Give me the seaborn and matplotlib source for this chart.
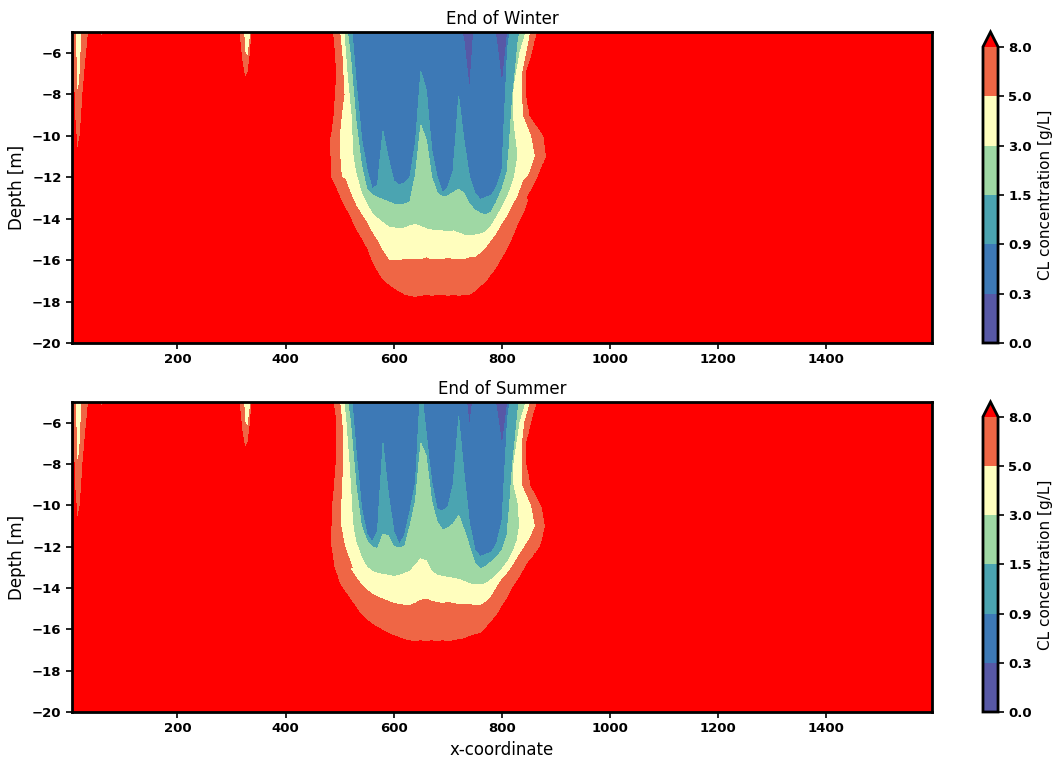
import numpy as np
import matplotlib
matplotlib.use("Agg")
import matplotlib.pyplot as plt
import seaborn as sns

# --- contour levels of the chloride field [g/L] ---
LEVELS = [0.0, 0.3, 0.9, 1.5, 3.0, 5.0, 8.0]
NONE = -4.0  # level not reached inside the model domain for this column

# Each column list gives the depth [m] down to which the concentration stays
# below a level (8, 5, 3, 1.5, 0.9, 0.3).

# narrow fresh strips near x=20 and x=325 (same in both seasons)
strip_x = [5, 10, 15, 20, 25, 30, 35, 40, 50, 60, 70, 310, 320, 325, 330, 335, 340]
strip_b8 = [-4, -9.0, -10.7, -10.0, -8.0, -6.5, -5.0, -4, -4, -5.3, -4, -4, -6.5, -7.2, -7.0, -6.0, -4]
strip_b5 = [-4, -4, -8.5, -7.0, -4, -4, -4, -4, -4, -4, -4, -4, -4, -6.0, -6.3, -5.2, -4]
strip_b3 = [-4, -4, -4, -4, -4, -4, -4, -4, -4, -4, -4, -4, -4, -5.15, -4, -4, -4]

# main fresh-water lens
plume_x = list(range(460, 901, 10))

# End of Winter
w_b8 = [-4, -13, -13, -13, -13,
        -13.5, -14.0, -14.55, -15.0, -15.45,
        -16.15, -16.6, -17.0, -17.2, -17.4,
        -17.55, -17.7, -17.75, -17.8, -17.75,
        -17.7, -17.75, -17.7, -17.7, -17.75,
        -17.7, -17.75, -17.7, -17.7, -17.55,
        -17.3, -17.1, -16.75, -16.4, -15.95,
        -15.5, -14.95, -14.3, -13.8, -13.1,
        -12.4, -12.2, -12.0, -11.8, -4]
w_b5 = [-4, -4, -12.0, -12.0, -12.0,
        -12.1, -12.8, -13.4, -13.8, -14.2,
        -14.7, -15.1, -15.6, -16.0, -16.0,
        -16.05, -15.95, -16.0, -15.95, -16.0,
        -15.9, -16.0, -15.95, -16.0, -15.9,
        -16.0, -15.95, -16.0, -15.9, -15.9,
        -15.7, -15.45, -15.1, -14.75, -14.3,
        -13.9, -13.4, -12.9, -12.2, -11.9,
        -11.4, -11.0, -4, -4, -4]
w_b3 = [-4, -4, -4, -4, -11.0,
        -11.0, -11.2, -11.8, -12.8, -13.3,
        -13.75, -14.0, -14.2, -14.4, -14.45,
        -14.5, -14.45, -14.35, -14.3, -14.4,
        -14.5, -14.55, -14.6, -14.6, -14.65,
        -14.6, -14.7, -14.8, -14.8, -14.8,
        -14.75, -14.65, -14.35, -13.95, -13.45,
        -12.95, -12.3, -11.4, -10.5, -4,
        -4, -4, -4, -4, -4]
w_b15 = [-4, -4, -4, -4, -4,
         -4, -6.2, -9.3, -11.4, -12.6,
         -12.85, -13.0, -13.1, -13.2, -13.3,
         -13.35, -13.3, -13.2, -11.9, -9.5,
         -10.2, -12.0, -12.75, -12.95, -12.9,
         -12.75, -12.6, -12.8, -13.3, -13.6,
         -13.75, -13.85, -13.7, -13.2, -12.6,
         -11.75, -8.1, -5.4, -4, -4,
         -4, -4, -4, -4, -4]
w_b09 = [-4, -4, -4, -4, -4,
         -4, -4, -7.3, -10.1, -11.6,
         -12.6, -12.4, -9.8, -11.1, -12.2,
         -12.4, -12.3, -12.0, -10.4, -6.9,
         -7.8, -10.7, -12.0, -12.8, -12.5,
         -11.7, -8.1, -10.3, -12.0, -12.8,
         -13.1, -13.0, -12.9, -12.5, -11.7,
         -5.8, -4, -4, -4, -4,
         -4, -4, -4, -4, -4]
w_b03 = [-4, -4, -4, -4, -4,
         -4, -4, -4, -4, -4,
         -4, -4, -5.3, -4, -4,
         -4, -4, -4, -4, -4,
         -4, -4, -4, -4, -4,
         -4, -4, -5.5, -7.9, -4,
         -4, -4, -4, -5.4, -7.6,
         -5.2, -4, -4, -4, -4,
         -4, -4, -4, -4, -4]

# End of Summer
s_b8 = [-4, -12.5, -12.8, -13.0, -13.8,
        -14.2, -14.55, -14.95, -15.3, -15.55,
        -15.75, -15.9, -16.05, -16.2, -16.3,
        -16.4, -16.5, -16.55, -16.6, -16.55,
        -16.6, -16.55, -16.6, -16.55, -16.6,
        -16.55, -16.5, -16.45, -16.35, -16.25,
        -16.2, -15.95, -15.65, -15.35, -14.9,
        -14.5, -14.0, -13.6, -13.15, -12.7,
        -12.5, -12.2, -12.0, -11.8, -4]
s_b5 = [-4, -4, -12.3, -12.3, -12.3,
        -12.4, -13.1, -13.5, -13.85, -14.1,
        -14.3, -14.45, -14.55, -14.65, -14.75,
        -14.8, -14.85, -14.85, -14.75, -14.6,
        -14.55, -14.65, -14.7, -14.75, -14.7,
        -14.75, -14.8, -14.8, -14.8, -14.85,
        -14.85, -14.7, -14.45, -14.0, -13.6,
        -13.3, -12.95, -12.5, -12.1, -11.7,
        -11.3, -11.0, -4, -4, -4]
s_b3 = [-4, -4, -4, -4, -11.0,
        -11.0, -11.2, -11.8, -12.5, -13.0,
        -13.2, -13.3, -13.35, -13.4, -13.45,
        -13.4, -13.3, -13.2, -12.9, -12.6,
        -12.7, -13.2, -13.4, -13.45, -13.5,
        -13.55, -13.6, -13.7, -13.8, -13.85,
        -13.85, -13.8, -13.6, -13.4, -13.1,
        -12.75, -12.3, -11.6, -10.8, -4,
        -4, -4, -4, -4, -4]
s_b15 = [-4, -4, -4, -4, -4,
         -4, -6.0, -9.0, -11.0, -11.7,
         -12.0, -12.1, -11.4, -11.5, -12.0,
         -12.05, -12.0, -11.0, -9.8, -7.0,
         -7.6, -9.8, -10.8, -11.2, -11.1,
         -10.9, -10.5, -11.2, -12.0, -12.8,
         -13.1, -12.95, -12.75, -12.5, -12.2,
         -11.4, -8.0, -5.3, -4, -4,
         -4, -4, -4, -4, -4]
s_b09 = [-4, -4, -4, -4, -4,
         -4, -4, -7.3, -10.1, -11.4,
         -11.8, -11.3, -7.0, -9.5, -11.3,
         -11.9, -11.5, -10.3, -9.0, -4,
         -6.6, -8.9, -10.2, -10.3, -10.1,
         -9.0, -5.7, -8.5, -10.9, -12.2,
         -12.5, -12.4, -12.3, -11.9, -10.8,
         -5.8, -4, -4, -4, -4,
         -4, -4, -4, -4, -4]
s_b03 = [-4, -4, -4, -4, -4,
         -4, -4, -4, -4, -4,
         -4, -4, -4, -4, -4,
         -4, -4, -4, -4, -4,
         -4, -4, -4, -4, -4,
         -4, -4, -4, -6.2, -4,
         -4, -4, -4, -5.3, -7.2,
         -5.2, -4, -4, -4, -4,
         -4, -4, -4, -4, -4]

# lateral edges of the lens (x of the 8, 5 and 3 g/L lines) per depth
env_z = [-5, -6, -7, -8, -9, -10, -11, -12, -13]
w_l8 = [486, 490, 492, 490, 487, 482, 482, 483, 500]
w_r8 = [866, 857, 845, 846, 852, 878, 883, 867, 847]
w_l5 = [500, 504, 506, 508, 503, 499, 500, 503, 523]
w_r5 = [853, 846, 838, 838, 840, 855, 862, 849, 829]
w_l3 = [508, 511, 514, 518, 521, 523, 525, 531, 543]
w_r3 = [844, 833, 826, 821, 821, 825, 829, 823, 810]

s_l8 = [487, 493, 492, 491, 488, 484, 483, 483, 489]
s_r8 = [866, 855, 846, 847, 854, 874, 881, 872, 844]
s_l5 = [500, 504, 506, 506, 503, 502, 502, 509, 523]
s_r5 = [853, 842, 838, 838, 838, 855, 862, 846, 820]
s_l3 = [508, 512, 515, 518, 520, 522, 525, 531, 545]
s_r3 = [844, 833, 827, 822, 822, 830, 832, 827, 813]

X_GRID = np.arange(5, 1596, 1.0)
Z_GRID = np.arange(-20, -4.999, 0.05)


def column_field(cols_b):
    """Concentration from the per-column depth of each level."""
    cols_x = strip_x + plume_x
    B = np.array([np.interp(X_GRID, cols_x, b) for b in cols_b])
    B = np.maximum.accumulate(B, axis=0) + np.arange(len(cols_b))[:, None] * 1e-3
    fp = [12, 8, 5, 3, 1.5, 0.9, 0.3, 0.0]
    c = np.empty((Z_GRID.size, X_GRID.size))
    for i in range(X_GRID.size):
        xp = np.r_[-21.0, B[:, i], -3.0]
        c[:, i] = np.interp(Z_GRID, xp, fp)
    return c


def envelope_field(rows):
    """Concentration from the lateral edges of the lens (8, 5, 3 g/L)."""
    ez = np.r_[-14.0, np.array(env_z)[::-1]]
    wide = [440, 445, 450, 890, 895, 900]
    R = [np.interp(Z_GRID, ez, np.r_[w, np.array(r)[::-1]]) for w, r in zip(wide, rows)]
    c = np.empty((Z_GRID.size, X_GRID.size))
    for j in range(Z_GRID.size):
        l8, l5, l3, r3, r5, r8 = (r[j] for r in R)
        xp = [l8, l5, l3, l3 + 1, r3 - 1, r3, r5, r8]
        c[j] = np.interp(X_GRID, xp, [8, 5, 3, 0, 0, 3, 5, 8], left=12, right=12)
    return c


def build_field(b8, b5, b3, b15, b09, b03, rows):
    none = [NONE] * len(strip_x)
    cols = [strip_b8 + b8, strip_b5 + b5, strip_b3 + b3,
            none + b15, none + b09, none + b03]
    c_col = column_field(cols)
    c_env = envelope_field(rows)
    return np.where(X_GRID[None, :] < 400, c_col, np.maximum(c_col, c_env))


winter = build_field(w_b8, w_b5, w_b3, w_b15, w_b09, w_b03,
                     [w_l8, w_l5, w_l3, w_r3, w_r5, w_r8])
summer = build_field(s_b8, s_b5, s_b3, s_b15, s_b09, s_b03,
                     [s_l8, s_l5, s_l3, s_r3, s_r5, s_r8])

sns.set_style("ticks")
plt.rcParams["font.family"] = ["DejaVu Sans"]
for key in ["text.color", "axes.labelcolor", "xtick.color", "ytick.color"]:
    plt.rcParams[key] = "black"

cmap = sns.color_palette("Spectral_r", as_cmap=True).copy()
cmap.set_over("red")

fig = plt.figure(figsize=(10.52, 7.58), dpi=100)
panels = [
    (winter, "End of Winter", [0.0684, 0.5475, 0.8175, 0.4103]),
    (summer, "End of Summer", [0.0684, 0.0607, 0.8175, 0.4090]),
]

for k, (field, title, pos) in enumerate(panels):
    ax = fig.add_axes(pos)
    cax = fig.add_axes([0.9344, pos[1], 0.0143, pos[3]])
    cf = ax.contourf(X_GRID, Z_GRID, field, levels=LEVELS, cmap=cmap, extend="max")
    ax.set_title(title, fontsize=12)
    ax.set_ylabel("Depth [m]", fontsize=12)
    if k == 1:
        ax.set_xlabel("x-coordinate", fontsize=12)
    for lab in ax.get_xticklabels() + ax.get_yticklabels():
        lab.set_fontweight("bold")
        lab.set_fontsize(9.5)
    for sp in ax.spines.values():
        sp.set_color("black")
        sp.set_linewidth(2)
    ax.tick_params(colors="black", width=1.2, length=4)

    cb = fig.colorbar(cf, cax=cax, ticks=LEVELS)
    cb.ax.set_yticklabels([f"{v:.1f}" for v in LEVELS], fontweight="bold", fontsize=9.5)
    cb.set_label("CL concentration [g/L]", fontsize=11)
    cb.outline.set_linewidth(2)
    cb.outline.set_edgecolor("black")
    cb.ax.tick_params(colors="black", width=1.2, length=4)

fig.savefig("out.png", dpi=100)
